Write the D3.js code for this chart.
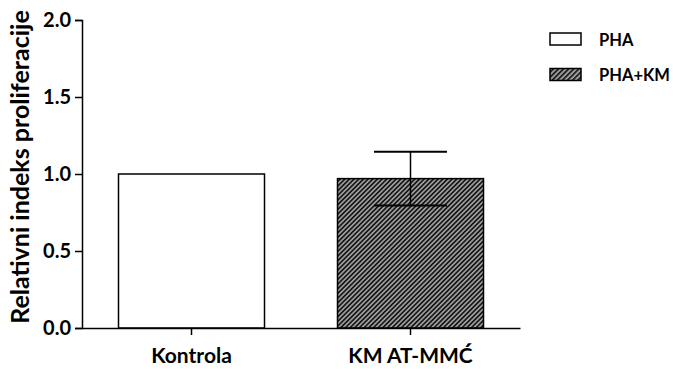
<!DOCTYPE html>
<html>
  <head>
    <meta charset="utf-8" />
    <title>Relativni indeks proliferacije</title>
    <script src="https://cdn.jsdelivr.net/npm/d3@7"></script>
    <style>
      body { margin: 0; background: #fff; }
      text { font-family: Lato, "Open Sans", sans-serif; font-weight: bold; }
    </style>
  </head>
  <body>
    <svg width="673" height="369"></svg>

    <script type="text/javascript">
      // data
      var categories = ["Kontrola", "KM AT-MMĆ"];
      var values = [1.0, 0.97];
      var errHigh = [null, 1.145];
      var errLow = [null, 0.795];
      var series = ["PHA", "PHA+KM"];
      var yTicks = [0, 0.5, 1.0, 1.5, 2.0];

      var svg = d3.select("svg");

      // hatch patterns (bar and legend swatch)
      var defs = svg.append("defs");
      function makeHatch(id, step) {
        var p = defs
          .append("pattern")
          .attr("id", id)
          .attr("patternUnits", "userSpaceOnUse")
          .attr("width", step)
          .attr("height", 10)
          .attr("patternTransform", "rotate(45)");
        p.append("rect").attr("width", step).attr("height", 10).attr("fill", "#9c9c9c");
        p.append("line")
          .attr("x1", 0.8).attr("y1", 0)
          .attr("x2", 0.8).attr("y2", 10)
          .attr("stroke", "#000")
          .attr("stroke-width", 1.4);
      }
      makeHatch("hatch", 3.3);
      makeHatch("hatch2", 3.6);

      var fills = ["#ffffff", "url(#hatch)"];

      var x = d3
        .scaleBand()
        .domain(categories)
        .range([82, 520])
        .paddingInner(1 / 3)
        .paddingOuter(1 / 6);

      var y = d3.scaleLinear().domain([0, 2]).range([328, 20]);

      // bars
      svg
        .append("g")
        .selectAll("rect")
        .data(values)
        .enter()
        .append("rect")
        .attr("x", function (d, i) { return x(categories[i]); })
        .attr("y", function (d) { return y(d); })
        .attr("width", x.bandwidth())
        .attr("height", function (d) { return y(0) - y(d); })
        .attr("fill", function (d, i) { return fills[i]; })
        .attr("stroke", "#000")
        .attr("stroke-width", 1.5);

      // error bars
      var eb = svg.append("g").attr("stroke", "#000");
      categories.forEach(function (c, i) {
        if (errHigh[i] == null) return;
        var cx = x(c) + x.bandwidth() / 2;
        var hw = x.bandwidth() / 4;
        eb.append("line")
          .attr("x1", cx).attr("x2", cx)
          .attr("y1", y(errHigh[i])).attr("y2", y(errLow[i]))
          .attr("stroke-width", 1.5);
        eb.append("line")
          .attr("x1", cx - hw).attr("x2", cx + hw)
          .attr("y1", y(errHigh[i])).attr("y2", y(errHigh[i]))
          .attr("stroke-width", 2);
        eb.append("line")
          .attr("x1", cx - hw).attr("x2", cx + hw)
          .attr("y1", y(errLow[i])).attr("y2", y(errLow[i]))
          .attr("stroke-width", 2);
      });

      // y axis
      var yAxis = svg
        .append("g")
        .attr("transform", "translate(82,0)")
        .call(
          d3.axisLeft(y)
            .tickValues(yTicks)
            .tickFormat(d3.format(".1f"))
            .tickSize(7)
            .tickPadding(4)
        );
      yAxis.select(".domain").attr("stroke-width", 1.5);
      yAxis.selectAll(".tick line").attr("stroke-width", 1.5);
      yAxis.selectAll("text").style("font-size", "20px").attr("fill", "#000");

      // x axis
      var xAxis = svg
        .append("g")
        .attr("transform", "translate(0,328)")
        .call(d3.axisBottom(x).tickSize(7).tickSizeOuter(0).tickPadding(13));
      xAxis.select(".domain").attr("stroke-width", 1.5);
      xAxis.selectAll(".tick line").attr("stroke-width", 1.5);
      xAxis.selectAll("text").style("font-size", "21px").attr("fill", "#000");

      // y label
      svg
        .append("text")
        .attr("transform", "translate(29,167) rotate(-90)")
        .attr("text-anchor", "middle")
        .style("font-size", "25px")
        .text("Relativni indeks proliferacije");

      // legend
      var legendFills = ["#ffffff", "url(#hatch2)"];
      var lg = svg.append("g");
      series.forEach(function (s, i) {
        lg.append("rect")
          .attr("x", 550)
          .attr("y", 33 + i * 35.5)
          .attr("width", 31)
          .attr("height", 12)
          .attr("fill", legendFills[i])
          .attr("stroke", "#000")
          .attr("stroke-width", 1.5);
        lg.append("text")
          .attr("x", 599)
          .attr("y", 40 + i * 35.5)
          .attr("dy", "0.35em")
          .style("font-size", "16.5px")
          .text(s);
      });
    </script>
  </body>
</html>
